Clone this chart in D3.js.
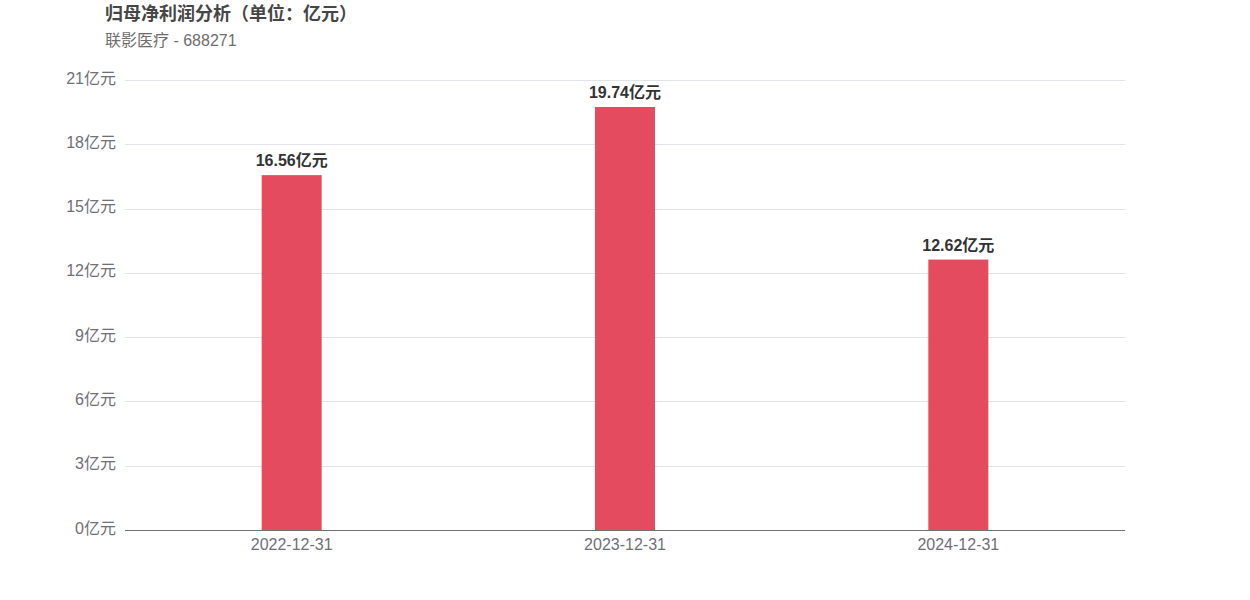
<!DOCTYPE html>
<html><head><meta charset="utf-8">
<script src="https://cdn.jsdelivr.net/npm/d3@7/dist/d3.min.js"></script>
<style>
html,body{margin:0;padding:0;background:#fff;}
svg{display:block;font-family:"Liberation Sans",Arial,"Noto Sans CJK SC",sans-serif;}
</style></head>
<body><svg id="c" width="1250" height="600"></svg>
<script>
const categories = ["2022-12-31","2023-12-31","2024-12-31"];
const values = [16.56, 19.74, 12.62];
const yTicks = [0,3,6,9,12,15,18,21];
const titleText = "归母净利润分析（单位：亿元）";
const subtitleText = "联影医疗 - 688271";

const svg = d3.select("#c");
const m = {left:125, right:1125, top:80, bottom:530};
const x = d3.scaleBand().domain(categories).range([m.left, m.right]);
const y = d3.scaleLinear().domain([0,21]).range([m.bottom, m.top]);

svg.append("text").attr("x",105).attr("y",20).attr("font-size",18).attr("font-weight","bold").attr("fill","#464646").text(titleText);
svg.append("text").attr("x",105).attr("y",46).attr("font-size",16).attr("fill","#6e6e6e").text(subtitleText);

// grid
svg.append("g").selectAll("line").data(yTicks.filter(d=>d>0)).join("line")
  .attr("x1",m.left).attr("x2",m.right).attr("y1",d=>Math.round(y(d))+0.5).attr("y2",d=>Math.round(y(d))+0.5)
  .attr("stroke","#e0e3ec").attr("stroke-width",1);

// y labels
svg.append("g").selectAll("text").data(yTicks).join("text")
  .attr("x",116).attr("y",d=>y(d)-2).attr("dy","0.35em").attr("text-anchor","end")
  .attr("font-size",16).attr("fill","#6e7079").text(d=>d+"亿元");

// bars
const bw = 60;
svg.append("g").selectAll("rect").data(values).join("rect")
  .attr("x",(d,i)=>x(categories[i])+x.bandwidth()/2-bw/2).attr("width",bw)
  .attr("y",d=>y(d)).attr("height",d=>y(0)-y(d)).attr("fill","#e54b5e");

// bar labels
svg.append("g").selectAll("text").data(values).join("text")
  .attr("x",(d,i)=>x(categories[i])+x.bandwidth()/2).attr("y",d=>y(d)-9)
  .attr("text-anchor","middle").attr("font-size",16).attr("font-weight","bold").attr("fill","#333")
  .text(d=>d.toFixed(2)+"亿元");

// x axis
svg.append("line").attr("x1",m.left).attr("x2",m.right).attr("y1",m.bottom+0.5).attr("y2",m.bottom+0.5).attr("stroke","#6e7079");
svg.append("g").selectAll("text").data(categories).join("text")
  .attr("x",d=>x(d)+x.bandwidth()/2).attr("y",544).attr("dy","0.35em").attr("text-anchor","middle")
  .attr("font-size",16).attr("fill","#6e7079").text(d=>d);
</script></body></html>
